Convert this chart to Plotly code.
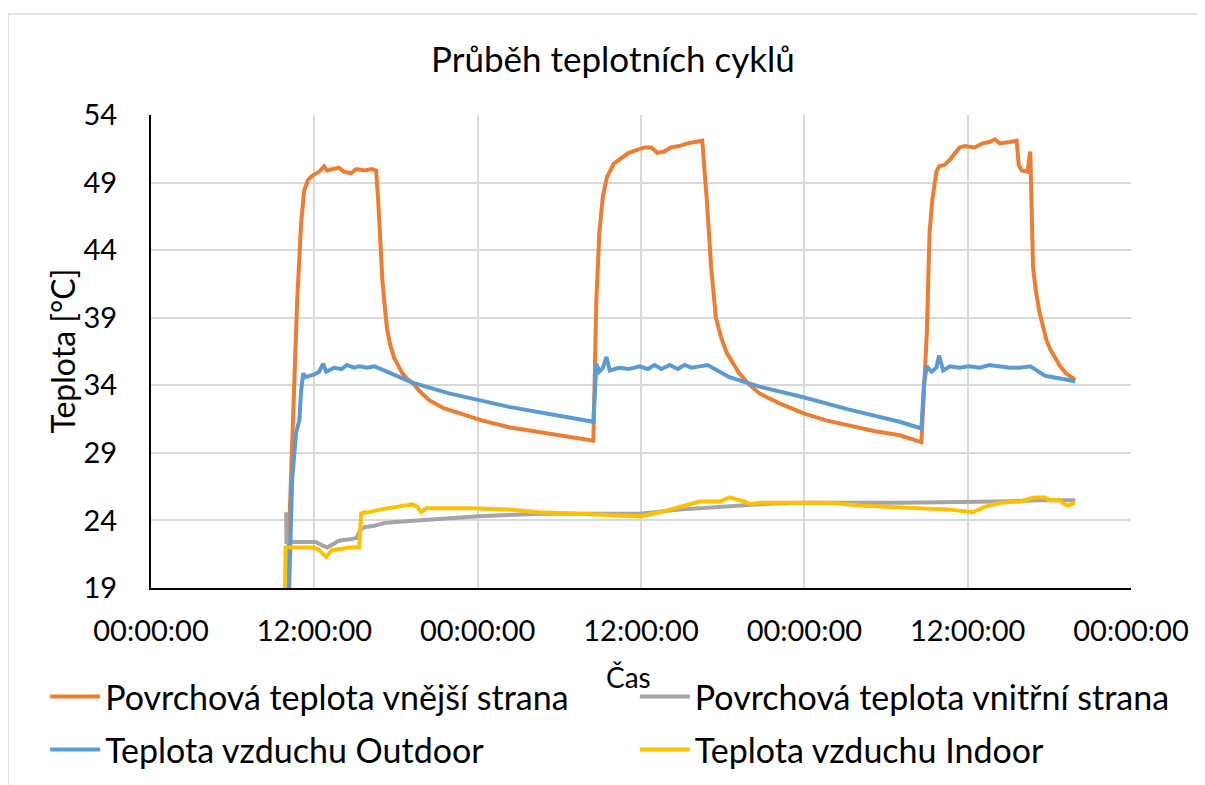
import pandas as pd
import plotly.graph_objects as go

# hours since the first midnight
outer_h = [10.0, 10.37, 10.74, 11.03, 11.25, 11.54, 11.84, 12.35, 12.72, 12.94, 13.3, 13.8, 14.2, 14.7,
           15.1, 15.7, 16.2, 16.54, 16.7, 16.84, 17.0, 17.13, 17.35, 17.6, 17.87, 18.2, 18.46, 18.8,
           19.19, 19.8, 20.44, 21.5, 22.65, 24.3, 26.3, 29.3,
           32.5, 32.72, 32.94, 33.2, 33.5, 34.0, 35.1, 36.25, 36.76, 37.2, 37.7, 38.2, 38.8, 39.4, 39.9,
           40.5, 40.85, 41.15, 41.5, 41.9, 42.3, 42.8, 43.2, 43.9, 44.7, 46.3, 48.0, 49.6, 51.3, 53.2,
           55.0, 56.5, 56.6, 57.0, 57.2, 57.4,
           57.7, 57.9, 58.3, 58.7, 59.4, 59.8, 60.5, 61.1, 61.6, 62.0, 62.35, 63.1, 63.6, 63.75, 63.97,
           64.4, 64.6, 64.8, 65.0, 65.3, 65.55, 65.8, 66.1, 66.5, 66.8, 67.2, 67.9]
outer_t = [19.0, 30.0, 40.3, 46.0, 48.4, 49.2, 49.5, 49.8, 50.2, 49.9, 50.0, 50.1, 49.8, 49.7,
           50.0, 49.9, 50.0, 49.9, 47.5, 44.0, 41.8, 40.3, 38.1, 36.9, 36.0, 35.4, 34.9, 34.5,
           34.2, 33.5, 32.9, 32.3, 31.9, 31.4, 30.9, 30.4,
           29.9, 40.3, 45.3, 48.0, 49.4, 50.4, 51.2, 51.6, 51.6, 51.2, 51.3, 51.6, 51.7, 51.9, 52.0,
           52.1, 47.5, 42.8, 39.0, 37.5, 36.4, 35.6, 34.9, 34.1, 33.4, 32.6, 31.9, 31.4, 31.0, 30.6,
           30.3, 29.9, 29.8, 37.9, 45.3, 47.7,
           49.8, 50.2, 50.3, 50.7, 51.6, 51.7, 51.6, 51.9, 52.0, 52.2, 51.9, 52.0, 52.1, 50.3, 49.9,
           49.8, 51.3, 42.8, 41.0, 39.3, 38.2, 37.3, 36.6, 35.9, 35.4, 34.9, 34.4]

inner_h = [9.93, 9.95, 10.9, 12.1, 12.5, 12.94, 13.46, 13.8, 14.6, 15.1, 15.4, 15.7, 16.4, 17.1,
           18.2, 19.7, 21.9, 24.1, 26.3, 28.5, 32.9, 35.9, 38.8, 41.8, 44.7, 47.6, 55.0, 62.35, 65.3, 67.9]
inner_t = [24.6, 22.4, 22.4, 22.4, 22.2, 22.0, 22.3, 22.5, 22.6, 22.7, 23.3, 23.5, 23.6, 23.8,
           23.9, 24.0, 24.2, 24.3, 24.4, 24.5, 24.5, 24.5, 24.8, 25.0, 25.2, 25.3, 25.3, 25.4, 25.5, 25.5]

out_air_h = [10.15, 10.37, 10.66, 10.9, 11.03, 11.18, 11.32, 12.0, 12.35, 12.65, 12.87, 13.46, 14.0,
             14.4, 14.9, 15.3, 15.9, 16.4, 16.9, 18.2, 19.2, 21.9, 26.3, 32.5,
             32.72, 32.94, 33.2, 33.46, 33.7, 34.4, 35.1, 35.9, 36.5, 37.0, 37.5, 38.1, 38.7, 39.2,
             39.7, 40.3, 40.9, 42.5, 44.7, 48.0, 51.3, 55.0, 56.6,
             56.8, 57.0, 57.35, 57.7, 57.9, 58.2, 58.7, 59.4, 60.1, 60.9, 61.6, 62.35, 63.1, 63.8,
             64.6, 65.7, 67.9]
out_air_t = [19.0, 27.0, 30.5, 31.4, 33.6, 34.9, 34.6, 34.8, 35.0, 35.6, 35.0, 35.3, 35.2,
             35.5, 35.3, 35.4, 35.3, 35.4, 35.2, 34.6, 34.2, 33.4, 32.4, 31.3,
             35.6, 35.0, 35.3, 36.1, 35.1, 35.3, 35.2, 35.4, 35.2, 35.5, 35.2, 35.5, 35.2, 35.5,
             35.3, 35.4, 35.5, 34.6, 33.9, 33.1, 32.2, 31.3, 30.8,
             34.2, 35.4, 35.0, 35.3, 36.2, 35.1, 35.4, 35.3, 35.4, 35.3, 35.5, 35.4, 35.3, 35.3,
             35.4, 34.7, 34.3]

in_air_h = [9.85, 9.88, 10.9, 12.0, 12.35, 12.87, 13.3, 13.8, 14.6, 15.3, 15.44, 15.66, 16.0, 16.8,
            18.2, 19.2, 19.6, 19.85, 20.2, 21.2, 23.4, 26.3, 28.5, 31.5, 33.7, 35.9, 37.4, 40.3,
            41.8, 42.5, 43.2, 43.6, 44.0, 44.7, 47.6, 49.9, 52.1, 54.3, 56.5, 58.7, 60.4, 61.25,
            62.35, 63.8, 64.9, 65.7, 66.0, 66.8, 66.99, 67.35, 67.9]
in_air_t = [19.0, 22.0, 22.0, 22.0, 21.8, 21.3, 21.8, 21.9, 22.0, 22.0, 24.5, 24.6, 24.6, 24.8,
            25.0, 25.2, 25.0, 24.6, 24.9, 24.9, 24.9, 24.8, 24.6, 24.5, 24.4, 24.3, 24.6, 25.4,
            25.4, 25.7, 25.5, 25.4, 25.2, 25.3, 25.3, 25.3, 25.1, 25.0, 24.9, 24.8, 24.6, 25.0,
            25.3, 25.4, 25.7, 25.7, 25.5, 25.5, 25.3, 25.1, 25.3]

names = ["Povrchová teplota vnější strana", "Povrchová teplota vnitřní strana",
         "Teplota vzduchu Outdoor", "Teplota vzduchu Indoor"]
colors = ["#ED7D31", "#A5A5A5", "#5B9BD5", "#FFC000"]

base = pd.Timestamp("2019-06-10 00:00:00")


def to_time(hours):
    return [base + pd.Timedelta(hours=h) for h in hours]


FONT = "Lato"

fig = go.Figure()
series = [(outer_h, outer_t), (inner_h, inner_t), (out_air_h, out_air_t), (in_air_h, in_air_t)]
legend_ids = ["legend", "legend2", "legend3", "legend4"]
for i, (h, t) in enumerate(series):
    fig.add_trace(go.Scatter(x=to_time(h), y=t, mode="lines", name=names[i], showlegend=True,
                             line=dict(color=colors[i], width=4), legend=legend_ids[i]))

legend_common = dict(orientation="h", xanchor="left", yanchor="middle", itemwidth=50,
                     font=dict(family=FONT, size=34, color="black"),
                     bgcolor="rgba(0,0,0,0)")
col_x = [-0.108, 0.4937]
row_y = [-0.2304, -0.3425]

# the page body adds an 8px offset, so the figure is 8px smaller than the window
fig.update_layout(
    width=1197, height=777,
    showlegend=True,
    margin=dict(l=143, r=74, t=107, b=197, autoexpand=False),
    paper_bgcolor="white", plot_bgcolor="white",
    font=dict(family=FONT, size=28, color="black"),
    title=dict(text="Průběh teplotních cyklů", x=0.5054, xanchor="center", y=0.933, yanchor="middle",
               font=dict(family=FONT, size=35, color="black")),
    xaxis=dict(type="date", range=[base, base + pd.Timedelta(hours=72)], dtick=12 * 3600 * 1000,
               tick0=base, tickformat="%H:%M:%S", showgrid=True, gridcolor="#d9d9d9", gridwidth=2,
               showline=True, linecolor="black", linewidth=2, ticks="", ticklabelstandoff=16,
               zeroline=False, tickfont=dict(size=29), automargin=False),
    yaxis=dict(range=[19, 54], dtick=5, tick0=19, showgrid=True, gridcolor="#d9d9d9", gridwidth=2,
               showline=True, linecolor="black", linewidth=2, ticks="", ticklabelstandoff=26,
               zeroline=False, tickfont=dict(size=29), automargin=False),
    legend=dict(x=col_x[0], y=row_y[0], **legend_common),
    legend2=dict(x=col_x[1], y=row_y[0], **legend_common),
    legend3=dict(x=col_x[0], y=row_y[1], **legend_common),
    legend4=dict(x=col_x[1], y=row_y[1], **legend_common),
    annotations=[
        dict(text="Čas", xref="paper", yref="paper", x=0.487, y=-0.188, xanchor="center",
             yanchor="middle", showarrow=False, font=dict(family=FONT, size=28, color="black")),
        dict(text="Teplota [°C]", xref="paper", yref="paper", x=-0.0908, y=0.5, xanchor="center",
             yanchor="middle", textangle=-90, showarrow=False,
             font=dict(family=FONT, size=32, color="black")),
    ],
    shapes=[dict(type="rect", xref="paper", yref="paper", x0=-0.1459, x1=1.09, y0=-0.43, y1=1.2135,
                 line=dict(color="#d9d9d9", width=1.5), layer="below")],
)

fig.write_html("out.html")
